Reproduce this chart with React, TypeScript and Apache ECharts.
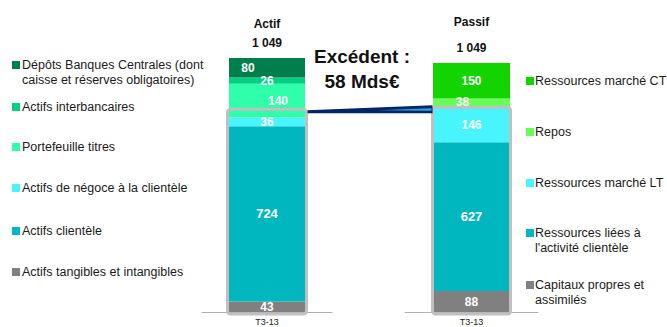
import React, { useEffect, useRef } from "react";
import * as echarts from "echarts";

const categories = ["T3-13"];

const actifNames = [
  "Actifs tangibles et intangibles",
  "Actifs clientèle",
  "Actifs de négoce à la clientèle",
  "Portefeuille titres",
  "Actifs interbancaires",
  "Dépôts Banques Centrales (dont\ncaisse et réserves obligatoires)",
];
const actifValues = [43, 724, 36, 140, 26, 80];
const actifColors = ["#808080", "#00b7bf", "#48f5ff", "#30ffaa", "#00d07f", "#007f4c"];

const passifNames = [
  "Capitaux propres et\nassimilés",
  "Ressources liées à\nl'activité clientèle",
  "Ressources marché LT",
  "Repos",
  "Ressources marché CT",
];
const passifValues = [88, 627, 146, 38, 150];
const passifColors = ["#808080", "#00b7bf", "#48f5ff", "#66ff55", "#14d400"];

const totals = [1049, 1049];
const frameLevels = [838, 863];
const excedentText = ["Excédent :", "58 Mds€"];

const FONT = "'Liberation Sans', Arial, sans-serif";

export default function App() {
  const ref = useRef<HTMLDivElement>(null);
  useEffect(() => {
    if (!ref.current) return;
    const chart = echarts.init(ref.current, undefined, { renderer: "svg" });

    const actifOffsets: any = { 5: [-19, 0], 3: [11, 0] };
    const passifOffsets: any = { 3: [-9, -1] };

    const frameSeries = (gi: number, w: number) => ({
      type: "custom",
      xAxisIndex: gi,
      yAxisIndex: gi,
      z: 5,
      silent: true,
      data: [[0, frameLevels[gi]]],
      renderItem: (params: any, api: any) => {
        const top = api.coord([api.value(0), api.value(1)]);
        const bottom = api.coord([api.value(0), 0]);
        return {
          type: "rect",
          shape: { x: top[0] - w / 2, y: top[1], width: w, height: bottom[1] - top[1] + 2, r: 3 },
          style: { fill: "none", stroke: "#c0c0c0", lineWidth: 3 },
        };
      },
    });

    const labelBase = {
      show: true,
      position: "inside",
      color: "#fff",
      fontWeight: "bold",
      fontSize: 12,
      fontFamily: "Liberation Sans",
    };

    const series: any[] = [];
    actifValues.forEach((v, i) => {
      series.push({
        type: "bar",
        name: actifNames[i],
        stack: "a",
        xAxisIndex: 0,
        yAxisIndex: 0,
        barWidth: 76,
        data: [v],
        itemStyle: { color: actifColors[i] },
        label: { ...labelBase, offset: actifOffsets[i] || [0, 0], fontSize: i === 1 ? 13 : 12 },
      });
    });
    passifValues.forEach((v, i) => {
      series.push({
        type: "bar",
        name: passifNames[i],
        stack: "p",
        xAxisIndex: 1,
        yAxisIndex: 1,
        barWidth: 77,
        data: [v],
        itemStyle: { color: passifColors[i] },
        label: { ...labelBase, offset: passifOffsets[i] || [0, 0], fontSize: i === 1 ? 13 : 12 },
      });
    });
    series.push(frameSeries(0, 79));
    series.push(frameSeries(1, 78));

    const xAxisBase = {
      type: "category",
      data: categories,
      axisLine: { lineStyle: { color: "#b0b0b0", width: 1 } },
      axisTick: { show: false },
      axisLabel: { fontSize: 9, color: "#222", fontFamily: "Liberation Sans", margin: 5 },
    };
    const yAxisBase = { type: "value", min: 0, max: 1100, show: false, splitLine: { show: false } };

    const legendEls: any[] = [];
    const leftLegend = [
      { name: actifNames[5], color: actifColors[5], y: 65 },
      { name: actifNames[4], color: actifColors[4], y: 107 },
      { name: actifNames[3], color: actifColors[3], y: 147 },
      { name: actifNames[2], color: actifColors[2], y: 188 },
      { name: actifNames[1], color: actifColors[1], y: 231 },
      { name: actifNames[0], color: actifColors[0], y: 272 },
    ];
    const rightLegend = [
      { name: passifNames[4], color: passifColors[4], y: 81 },
      { name: passifNames[3], color: passifColors[3], y: 132 },
      { name: passifNames[2], color: passifColors[2], y: 183 },
      { name: passifNames[1], color: passifColors[1], y: 233 },
      { name: passifNames[0], color: passifColors[0], y: 285 },
    ];
    const addLegend = (items: any[], mx: number, tx: number) => {
      items.forEach((it) => {
        legendEls.push({
          type: "rect",
          shape: { x: mx, y: it.y - 4, width: 8, height: 8 },
          style: { fill: it.color },
        });
        legendEls.push({
          type: "text",
          x: tx,
          y: it.y - 7.5,
          style: {
            text: it.name,
            fill: "#1a1a1a",
            font: `12.5px ${FONT}`,
            lineHeight: 15,
            textVerticalAlign: "top",
          },
        });
      });
    };
    addLegend(leftLegend, 12, 22);
    addLegend(rightLegend, 526, 535);

    const option: any = {
      animation: false,
      grid: [
        { left: 202, width: 130, top: 45.7, bottom: 15, containLabel: false },
        { left: 405, width: 133, top: 50.9, bottom: 15, containLabel: false },
      ],
      xAxis: [
        { ...xAxisBase, gridIndex: 0 },
        { ...xAxisBase, gridIndex: 1 },
      ],
      yAxis: [
        { ...yAxisBase, gridIndex: 0 },
        { ...yAxisBase, gridIndex: 1 },
      ],
      series,
      graphic: legendEls,
    };
    chart.setOption(option);

    const a = chart.convertToPixel({ xAxisIndex: 0, yAxisIndex: 0 }, [0, frameLevels[0]]) as number[];
    const p = chart.convertToPixel({ xAxisIndex: 1, yAxisIndex: 1 }, [0, frameLevels[1]]) as number[];
    const aTop = chart.convertToPixel({ xAxisIndex: 0, yAxisIndex: 0 }, [0, totals[0]]) as number[];
    const pTop = chart.convertToPixel({ xAxisIndex: 1, yAxisIndex: 1 }, [0, totals[1]]) as number[];
    const xL = a[0] + 79 / 2 + 1;
    const xR = p[0] - 78 / 2;
    const yL = a[1] + 2;
    const yR = p[1];

    const fmt = (n: number) => {
      const s = String(n);
      return s.length > 3 ? s.slice(0, s.length - 3) + " " + s.slice(-3) : s;
    };

    const headerText = (x: number, y: number, t: string) => ({
      type: "text",
      x,
      y,
      style: {
        text: t,
        fill: "#111",
        font: `bold 12px ${FONT}`,
        textAlign: "center",
        textVerticalAlign: "middle",
      },
    });

    const extra: any[] = [
      headerText(aTop[0], 24, "Actif"),
      headerText(aTop[0], aTop[1] - 15, fmt(totals[0])),
      headerText(pTop[0], 22, "Passif"),
      headerText(pTop[0], pTop[1] - 15, fmt(totals[1])),
      {
        type: "text",
        x: 362,
        y: 56,
        style: {
          text: excedentText[0],
          fill: "#111",
          font: `bold 19px ${FONT}`,
          textAlign: "center",
          textVerticalAlign: "middle",
        },
      },
      {
        type: "text",
        x: 362,
        y: 81,
        style: {
          text: excedentText[1],
          fill: "#111",
          font: `bold 19px ${FONT}`,
          textAlign: "center",
          textVerticalAlign: "middle",
        },
      },
      {
        type: "polygon",
        shape: {
          points: [
            [xL, yL - 1],
            [xR, yR - 2],
            [xR, yR + 6],
            [xL, yL + 2],
          ],
        },
        style: { fill: "#002468" },
        z: 20,
      },
      {
        type: "polygon",
        shape: {
          points: [
            [xL + 70, yL - 1],
            [xR - 1, yR + 1],
            [xR - 1, yR + 3.5],
          ],
        },
        style: { fill: "#2aa8dc" },
        z: 21,
      },
    ];
    chart.setOption({ graphic: [...legendEls, ...extra] });

    return () => chart.dispose();
  }, []);

  return (
    <div
      ref={ref}
      style={{ position: "absolute", left: 0, top: 0, width: 667, height: 327, background: "#fff" }}
    />
  );
}
